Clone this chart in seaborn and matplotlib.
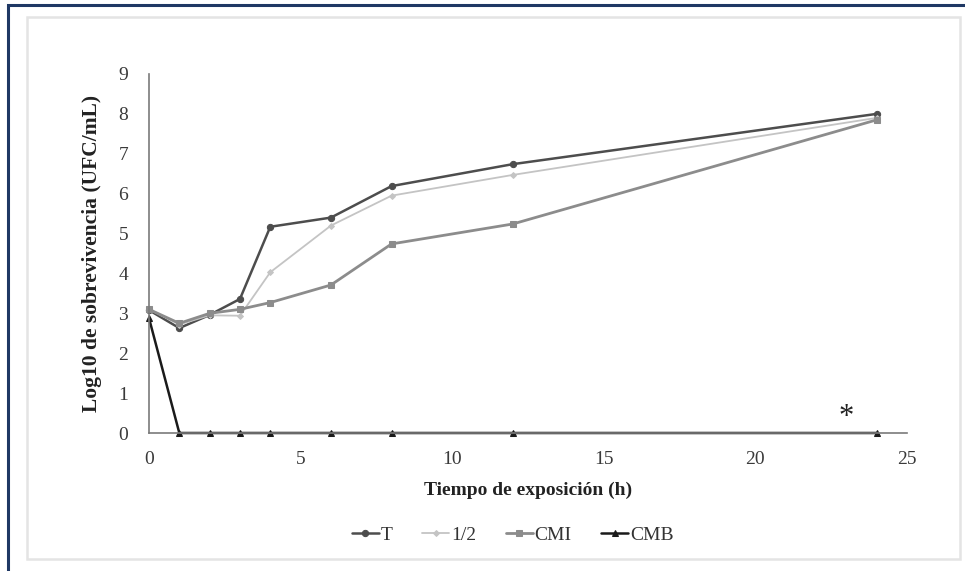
import numpy as np
import pandas as pd
import matplotlib
matplotlib.use("Agg")
import matplotlib.pyplot as plt
import seaborn as sns
from matplotlib.patches import Rectangle

# Data
horas = [0, 1, 2, 3, 4, 6, 8, 12, 24]
serie_T = [3.08, 2.63, 2.96, 3.36, 5.17, 5.40, 6.19, 6.74, 8.00]
serie_medio = [3.10, 2.72, 2.95, 2.94, 4.03, 5.20, 5.95, 6.47, 7.90]
serie_CMI = [3.10, 2.75, 3.00, 3.10, 3.27, 3.71, 4.74, 5.24, 7.85]
serie_CMB = [2.88, 0, 0, 0, 0, 0, 0, 0, 0]
nombres = ["T", "1/2", "CMI", "CMB"]
x_ticks = [0, 5, 10, 15, 20, 25]
y_ticks = list(range(0, 10))

sns.set_theme(style="white")
plt.rcParams['font.family'] = ['Liberation Serif', 'DejaVu Serif']

fig = plt.figure(figsize=(9.65, 5.71), dpi=100)
ax = fig.add_axes([149/965, 1-433/571, (907-149)/965, (433-74)/571])

# decorative frames
fig.patches.append(Rectangle((7.5/965, -0.05), 1.1, 1 - 5/571 + 0.05, transform=fig.transFigure,
                             fill=False, edgecolor="#1f3864", linewidth=2.2, zorder=0))
fig.patches.append(Rectangle((27/965, 12/571), (960-27)/965, (554-12)/571, transform=fig.transFigure,
                             fill=False, edgecolor="#e4e4e4", linewidth=1.8, zorder=0))

estilos = [
    (serie_T, "#4d4d4d", "o", 1.8, 4.5),
    (serie_medio, "#c4c4c4", "D", 1.3, 3.0),
    (serie_CMI, "#8c8c8c", "s", 2.0, 5.0),
    (serie_CMB, "#1a1a1a", "^", 1.8, 4.5),
]
for nombre, (vals, col, mk, lw, ms) in zip(nombres, estilos):
    df = pd.DataFrame({"x": horas, "y": vals})
    sns.lineplot(data=df, x="x", y="y", ax=ax, color=col, marker=mk, linewidth=lw,
                 markersize=ms, markeredgecolor=col, label=nombre, clip_on=False)

ax.set_xlim(0, 25)
ax.set_ylim(0, 9)
ax.set_xticks(x_ticks)
ax.set_yticks(y_ticks)
ax.tick_params(axis="both", length=0, labelsize=14, colors="#3a3a3a")
ax.tick_params(axis="x", pad=13)
ax.tick_params(axis="y", pad=15)
for s in ["top", "right"]:
    ax.spines[s].set_visible(False)
for s in ["left", "bottom"]:
    ax.spines[s].set_color("#7a7a7a")
    ax.spines[s].set_linewidth(1.2)

ax.set_xlabel("Tiempo de exposición (h)", fontsize=14, fontweight="bold", color="#222222", labelpad=10)
ax.set_ylabel("Log10 de sobrevivencia (UFC/mL)", fontsize=15.5, fontweight="bold", color="#222222", labelpad=12)

ax.text(23, 0.02, "*", fontsize=22, ha="center", va="bottom", color="#222222")

leg = ax.legend(loc="upper center", bbox_to_anchor=(0.48, -0.21), ncol=4, frameon=False,
                fontsize=14, handlelength=1.4, handletextpad=0.1, columnspacing=1.5)
for t in leg.get_texts():
    t.set_color("#333333")

fig.savefig("out.png", dpi=100, facecolor="white")
